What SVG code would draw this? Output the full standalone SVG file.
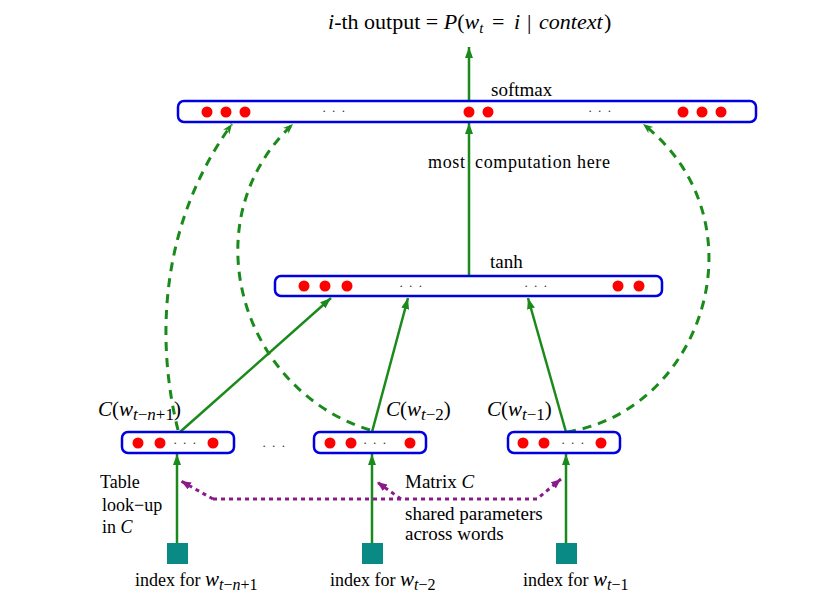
<svg xmlns="http://www.w3.org/2000/svg" width="840" height="610" viewBox="0 0 840 610">
<style>
text{font-family:"Liberation Serif","Times New Roman",serif;fill:#000}
.box{fill:#fff;stroke:#0000e0;stroke-width:2.5}
.dot{fill:#ff0000}
.g{stroke:#1a8a1a;stroke-width:2.5;fill:none}
.gd{stroke:#1a8a1a;stroke-width:3;stroke-dasharray:9 7;fill:none}
.p{stroke:#8b1a8b;stroke-width:3;stroke-dasharray:4 4;fill:none}
.sq{fill:#0a8a85}
.dd{font-size:13px;fill:#333;letter-spacing:1px}
.it{font-style:italic;font-family:"Liberation Serif","Times New Roman",serif}
</style>
<defs>
<marker id="ag" markerUnits="userSpaceOnUse" markerWidth="12" markerHeight="10" refX="11" refY="4" orient="auto"><path d="M0,0 L11,4 L0,8 z" fill="#1a8a1a"/></marker>
<marker id="agd" markerUnits="userSpaceOnUse" markerWidth="12" markerHeight="10" refX="10" refY="4" orient="auto"><path d="M0,0 L10,4 L0,8 L3,4 z" fill="#1a8a1a"/></marker>
<marker id="ap" markerUnits="userSpaceOnUse" markerWidth="12" markerHeight="10" refX="10" refY="4" orient="auto"><path d="M0,0 L10,4 L0,8 z" fill="#8b1a8b"/></marker>
</defs>

<text x="328" y="29" font-size="22"><tspan class="it">i</tspan>-th output = <tspan class="it">P</tspan>(<tspan class="it">w</tspan><tspan class="it" font-size="15" dy="4">t</tspan><tspan x="492" dy="-4">=</tspan><tspan class="it" x="514">i</tspan><tspan x="527">|</tspan><tspan class="it" x="539">context</tspan><tspan x="604">)</tspan></text>

<g id="connectors">
<line class="g" x1="469" y1="101" x2="469" y2="47" marker-end="url(#ag)"/>
<line class="g" x1="469" y1="276" x2="469" y2="123" marker-end="url(#ag)"/>
<line class="g" x1="180" y1="432" x2="331" y2="298" marker-end="url(#ag)"/>
<line class="g" x1="372" y1="432" x2="408" y2="298" marker-end="url(#ag)"/>
<line class="g" x1="566" y1="432" x2="528" y2="298" marker-end="url(#ag)"/>
<line class="g" x1="177" y1="543" x2="177" y2="454" marker-end="url(#ag)"/>
<line class="g" x1="372" y1="543" x2="372" y2="454" marker-end="url(#ag)"/>
<line class="g" x1="566" y1="543" x2="566" y2="454" marker-end="url(#ag)"/>
<path class="gd" d="M178,430 C158,350 155,230 232,124" marker-end="url(#agd)"/>
<path class="gd" d="M370,430 C240,390 190,220 293,124" marker-end="url(#agd)"/>
<path class="gd" d="M567,432 C705,410 765,220 643,124" marker-end="url(#agd)"/>
<path class="p" d="M213,499 L537,499 L561,479" marker-end="url(#ap)"/>
<path class="p" d="M213,499 L181,481" marker-end="url(#ap)"/>
<path class="p" d="M401,499 L377,482" marker-end="url(#ap)"/>
</g>

<g id="softmax">
<rect class="box" x="178" y="101" width="578" height="21" rx="6"/>
<circle class="dot" cx="207" cy="112" r="5.5"/><circle class="dot" cx="226" cy="112" r="5.5"/><circle class="dot" cx="245" cy="112" r="5.5"/>
<circle class="dot" cx="469" cy="112" r="5.5"/><circle class="dot" cx="488" cy="112" r="5.5"/>
<circle class="dot" cx="683" cy="112" r="5.5"/><circle class="dot" cx="702" cy="112" r="5.5"/><circle class="dot" cx="721" cy="112" r="5.5"/>
<text class="dd" x="322" y="115">· · ·</text><text class="dd" x="588" y="115">· · ·</text>
<text x="491" y="96" font-size="19">softmax</text>
</g>

<g id="tanh">
<rect class="box" x="275" y="276" width="387" height="20" rx="6"/>
<circle class="dot" cx="304" cy="286" r="5.5"/><circle class="dot" cx="325" cy="286" r="5.5"/><circle class="dot" cx="347" cy="286" r="5.5"/>
<circle class="dot" cx="618" cy="286" r="5.5"/><circle class="dot" cx="639" cy="286" r="5.5"/>
<text class="dd" x="399" y="290">· · ·</text><text class="dd" x="524" y="290">· · ·</text>
<text x="490" y="268" font-size="19">tanh</text>
</g>

<text x="428" y="168" font-size="18" textLength="37">most</text>
<text x="475" y="168" font-size="18" textLength="135">computation here</text>

<g id="emb1">
<rect class="box" x="122" y="432" width="112" height="21" rx="6"/>
<circle class="dot" cx="138" cy="443" r="5.5"/><circle class="dot" cx="160" cy="443" r="5.5"/><circle class="dot" cx="213" cy="443" r="5.5"/>
<text class="dd" x="173" y="447">· · ·</text>
<text x="98" y="416" font-size="21"><tspan class="it">C</tspan>(<tspan class="it">w</tspan><tspan font-size="17" dy="4"><tspan class="it">t</tspan>−<tspan class="it">n</tspan>+1</tspan><tspan dy="-4">)</tspan></text>
</g>
<text class="dd" x="262" y="450">· · ·</text>
<g id="emb2">
<rect class="box" x="314" y="432" width="112" height="21" rx="6"/>
<circle class="dot" cx="330" cy="443" r="5.5"/><circle class="dot" cx="351" cy="443" r="5.5"/><circle class="dot" cx="410" cy="443" r="5.5"/>
<text class="dd" x="363" y="447">· · ·</text>
<text x="386" y="416" font-size="21"><tspan class="it">C</tspan>(<tspan class="it">w</tspan><tspan font-size="17" dy="4"><tspan class="it">t</tspan>−2</tspan><tspan dy="-4">)</tspan></text>
</g>
<g id="emb3">
<rect class="box" x="508" y="432" width="112" height="21" rx="6"/>
<circle class="dot" cx="523" cy="443" r="5.5"/><circle class="dot" cx="544" cy="443" r="5.5"/><circle class="dot" cx="601" cy="443" r="5.5"/>
<text class="dd" x="561" y="447">· · ·</text>
<text x="487" y="416" font-size="21"><tspan class="it">C</tspan>(<tspan class="it">w</tspan><tspan font-size="17" dy="4"><tspan class="it">t</tspan>−1</tspan><tspan dy="-4">)</tspan></text>
</g>

<g id="idx1">
<rect class="sq" x="167" y="543" width="21" height="21"/>
<text x="135" y="586" font-size="18">index for <tspan class="it" font-size="21">w</tspan><tspan font-size="16" dy="4"><tspan class="it">t</tspan>−<tspan class="it">n</tspan>+1</tspan></text>
</g>
<g id="idx2">
<rect class="sq" x="362" y="543" width="21" height="21"/>
<text x="330" y="586" font-size="18">index for <tspan class="it" font-size="21">w</tspan><tspan font-size="16" dy="4"><tspan class="it">t</tspan>−2</tspan></text>
</g>
<g id="idx3">
<rect class="sq" x="556" y="543" width="21" height="21"/>
<text x="523" y="586" font-size="18">index for <tspan class="it" font-size="21">w</tspan><tspan font-size="16" dy="4"><tspan class="it">t</tspan>−1</tspan></text>
</g>

<g id="labels">
<text x="100" y="488" font-size="18">Table</text>
<text x="102" y="511" font-size="18">look−up</text>
<text x="102" y="533" font-size="18">in <tspan class="it">C</tspan></text>
<text x="405" y="488" font-size="19">Matrix <tspan class="it">C</tspan></text>
<text x="405" y="520" font-size="19">shared parameters</text>
<text x="405" y="540" font-size="19">across words</text>
</g>
</svg>
